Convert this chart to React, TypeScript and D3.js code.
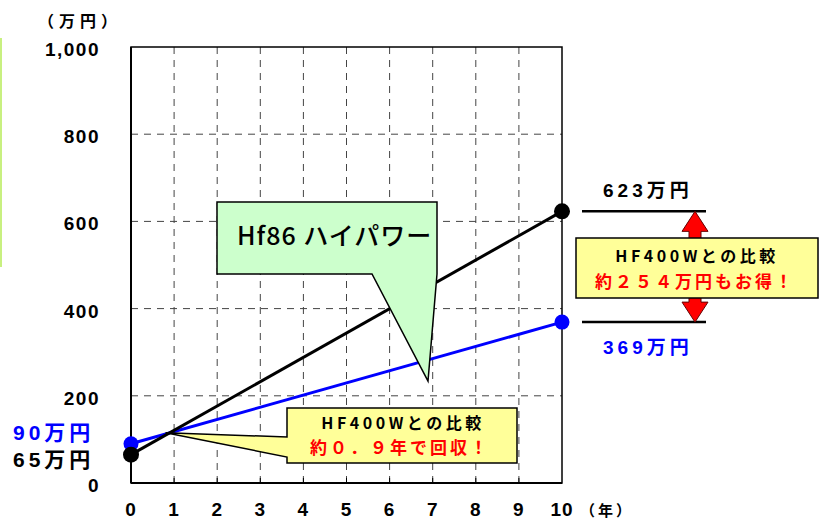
import * as d3 from "d3"

const years = [0, 10]
const hf86Values = [65, 623]
const hf400wValues = [90, 369]
const yTickValues = [0, 200, 400, 600, 800, 1000]
const xTickValues = [0, 1, 2, 3, 4, 5, 6, 7, 8, 9, 10]

const W = 823
const H = 523
const JP = "'Liberation Sans', 'Noto Sans CJK JP', sans-serif"
const JPB = "'Noto Sans CJK JP', sans-serif"

export default function App() {
  const x = d3.scaleLinear().domain([0, 10]).range([131, 562])
  const y = d3.scaleLinear().domain([0, 1000]).range([483, 47])

  const line = d3
    .line<number>()
    .x((_, i) => x(years[i]))
    .y((d) => y(d))

  const x0 = x.range()[0]
  const x1 = x.range()[1]
  const yTop = y(1000)
  const yBot = y(0)

  // right side comparison
  const topY = y(hf86Values[1])
  const botY = y(hf400wValues[1])
  const arrowX = x1 + 133
  const arrow = [
    [arrowX, topY],
    [arrowX + 13, topY + 20],
    [arrowX + 6, topY + 20],
    [arrowX + 6, botY - 20],
    [arrowX + 13, botY - 20],
    [arrowX, botY],
    [arrowX - 13, botY - 20],
    [arrowX - 6, botY - 20],
    [arrowX - 6, topY + 20],
    [arrowX - 13, topY + 20],
  ]

  // break-even point (where the two lines cross)
  const slope86 = (hf86Values[1] - hf86Values[0]) / (years[1] - years[0])
  const slope400 = (hf400wValues[1] - hf400wValues[0]) / (years[1] - years[0])
  const crossYear = (hf400wValues[0] - hf86Values[0]) / (slope86 - slope400)
  const crossVal = hf86Values[0] + slope86 * crossYear
  const cx = x(crossYear)
  const cy = y(crossVal)

  const greenCallout = [
    [217, 202],
    [437, 202],
    [437, 274],
    [428, 381],
    [372, 274],
    [217, 274],
  ]
  const yellowCallout = [
    [287, 408],
    [517, 408],
    [517, 463],
    [287, 463],
    [287, 457],
    [cx - 4, cy],
    [287, 437],
  ]

  return (
    <div style={{ position: "fixed", left: 0, top: 0 }}>
      <svg width={W} height={H} style={{ display: "block", background: "#fff" }}>
        {/* thin green bar on the left */}
        <rect x={0} y={38} width={2} height={229} fill="#c8f080" />

        {/* grid */}
        {xTickValues.slice(1, -1).map((t) => (
          <line key={"gx" + t} x1={x(t)} x2={x(t)} y1={yTop} y2={yBot} stroke="#444" strokeWidth={1} strokeDasharray="7,6" />
        ))}
        {yTickValues.slice(1, -1).map((t) => (
          <line key={"gy" + t} x1={x0} x2={x1} y1={y(t)} y2={y(t)} stroke="#444" strokeWidth={1} strokeDasharray="7,6" />
        ))}

        {/* frame */}
        <rect x={x0} y={yTop} width={x1 - x0} height={yBot - yTop} fill="none" stroke="#000" strokeWidth={1.5} />
        <line x1={x0} x2={x0} y1={yTop} y2={yBot} stroke="#000" strokeWidth={2} />
        <line x1={x0} x2={x1} y1={yBot} y2={yBot} stroke="#000" strokeWidth={2} />
        {xTickValues.slice(1, -1).map((t) => (
          <line key={"tx" + t} x1={x(t)} x2={x(t)} y1={yBot} y2={yBot - 5} stroke="#000" strokeWidth={1} />
        ))}

        {/* y labels */}
        {yTickValues.map((t) => (
          <text key={"ly" + t} x={100} y={y(t) + 9} textAnchor="end" fontFamily={JP} fontWeight="bold" fontSize={19} letterSpacing={1.5}>
            {d3.format(",")(t)}
          </text>
        ))}
        <text x={38} y={27} fontFamily={JPB} fontWeight="bold" fontSize={16} letterSpacing={5}>
          （万円）
        </text>

        {/* x labels */}
        {xTickValues.map((t) => (
          <text key={"lx" + t} x={x(t)} y={516} textAnchor="middle" fontFamily={JP} fontWeight="bold" fontSize={19} letterSpacing={1}>
            {t}
          </text>
        ))}
        <text x={580} y={516} fontFamily={JPB} fontWeight="bold" fontSize={15} letterSpacing={3}>
          （年）
        </text>

        {/* series */}
        <path d={line(hf400wValues) || ""} fill="none" stroke="#0000ff" strokeWidth={3} />
        <path d={line(hf86Values) || ""} fill="none" stroke="#000" strokeWidth={3} />
        {hf400wValues.map((v, i) => (
          <circle key={"b" + i} cx={x(years[i])} cy={y(v)} r={7.5} fill="#0000ff" />
        ))}
        {hf86Values.map((v, i) => (
          <circle key={"k" + i} cx={x(years[i])} cy={y(v)} r={8} fill="#000" />
        ))}

        {/* start labels */}
        <text x={13} y={y(hf400wValues[0]) - 4} fontFamily={JP} fontWeight="bold" fontSize={21} letterSpacing={4} fill="#0000ff">
          {hf400wValues[0]}万円
        </text>
        <text x={13} y={y(hf86Values[0]) + 12} fontFamily={JP} fontWeight="bold" fontSize={21} letterSpacing={4} fill="#000">
          {hf86Values[0]}万円
        </text>

        {/* end labels and reference lines */}
        <line x1={x1 + 20} x2={x1 + 144} y1={topY} y2={topY} stroke="#000" strokeWidth={2.5} />
        <line x1={x1 + 20} x2={x1 + 144} y1={botY} y2={botY} stroke="#000" strokeWidth={2.5} />
        <text x={603} y={topY - 14} fontFamily={JP} fontWeight="bold" fontSize={19} letterSpacing={4}>
          {hf86Values[1]}万円
        </text>
        <text x={603} y={botY + 32} fontFamily={JP} fontWeight="bold" fontSize={19} letterSpacing={4} fill="#0000ff">
          {hf400wValues[1]}万円
        </text>
        <polygon points={arrow.map((p) => p.join(",")).join(" ")} fill="#ff0000" stroke="#600" strokeWidth={1} />
        <rect x={576} y={238} width={242} height={60} fill="#ffff99" stroke="#000" strokeWidth={1.5} />
        <text x={697} y={262} textAnchor="middle" fontFamily={JPB} fontWeight="bold" fontSize={16} letterSpacing={3.5}>
          HF400Wとの比較
        </text>
        <text x={695} y={288} textAnchor="middle" fontFamily={JPB} fontWeight="bold" fontSize={17} letterSpacing={3} fill="#ff0000">
          約２５４万円もお得！
        </text>

        {/* green callout */}
        <polygon points={greenCallout.map((p) => p.join(",")).join(" ")} fill="#ccffcc" stroke="#000" strokeWidth={1.5} />
        <text x={237} y={245} fontFamily={JPB} fontWeight={500} fontSize={25} letterSpacing={1}>
          Hf86 ハイパワー
        </text>

        {/* yellow callout */}
        <polygon points={yellowCallout.map((p) => p.join(",")).join(" ")} fill="#ffff99" stroke="#000" strokeWidth={1.5} />
        <text x={403} y={429} textAnchor="middle" fontFamily={JPB} fontWeight="bold" fontSize={16} letterSpacing={3.5}>
          HF400Wとの比較
        </text>
        <text x={400} y={454} textAnchor="middle" fontFamily={JPB} fontWeight="bold" fontSize={17} letterSpacing={3} fill="#ff0000">
          約０．９年で回収！
        </text>
      </svg>
    </div>
  )
}
